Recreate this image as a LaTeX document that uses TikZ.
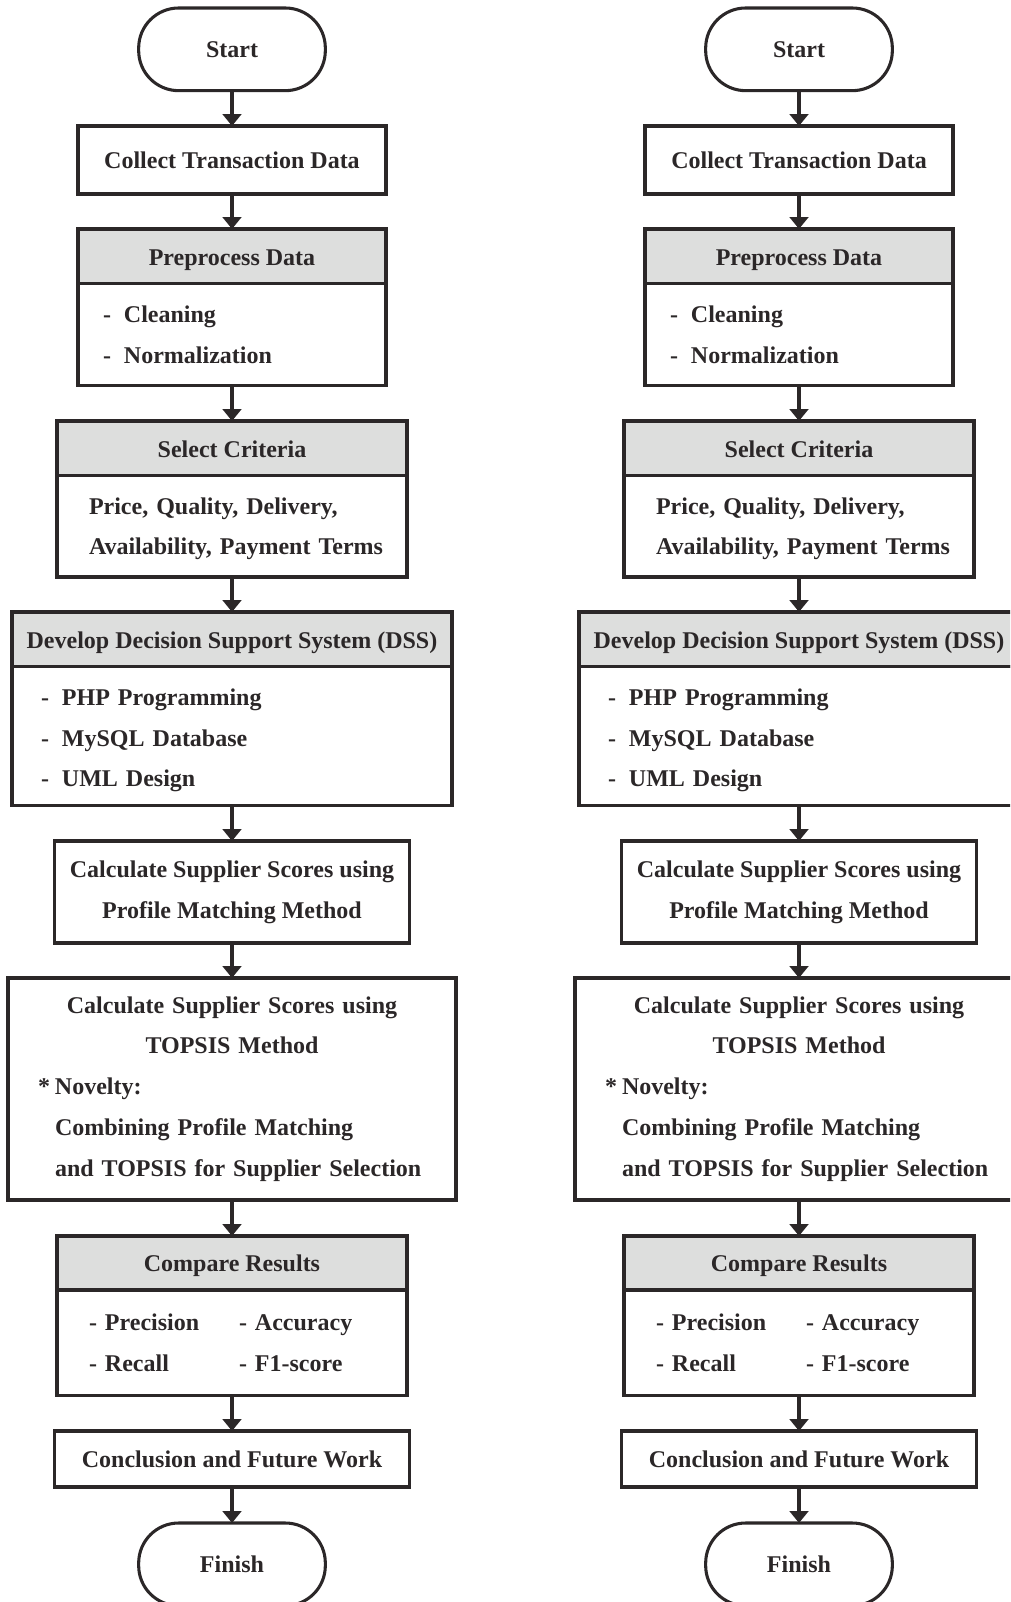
\documentclass[tikz,border=0pt]{standalone}
\usepackage{fontspec}
\setmainfont{Liberation Serif}
\usetikzlibrary{positioning,arrows.meta}

\definecolor{inkgray}{HTML}{2B2728}
\definecolor{headgray}{HTML}{DDDEDD}

\tikzset{
  box/.style={draw=inkgray, line width=2.3pt, outer sep=0pt, inner sep=0pt,
    text=inkgray, font=\bfseries\fontsize{18}{30.6}\selectfont\frenchspacing},
  terminal/.style={box, rounded corners=30pt, minimum width=140pt, minimum height=62pt},
  stepbox/.style={box, align=center},
  headbox/.style={box, fill=headgray, minimum height=41pt, text height=13pt, text depth=0pt},
  listbox/.style={box, align=left},
  flow/.style={draw=inkgray, line width=2.5pt, -{Triangle[width=14pt,length=9pt]}},
}
\newcommand{\itemdash}{\makebox[15.75pt][l]{-}}

\begin{document}
\begin{tikzpicture}[x=0.75pt, y=-0.75pt]
\useasboundingbox (0,0) rectangle (1010,1602);
\clip (0,0) rectangle (1010,1602);

% the same flow chart, twice
\foreach \p/\cx in {l/232, r/799}{
  \node[terminal, anchor=north] (\p-start) at (\cx,8) {Start};
  \node[stepbox, anchor=north, minimum width=231pt, minimum height=51pt] (\p-collect) at (\cx,126) {Collect Transaction Data};
  % preprocessing
  \node[headbox, anchor=north, minimum width=231pt] (\p-prep-head) at (\cx,229) {Preprocess Data};
  \node[listbox, below=0pt of \p-prep-head, minimum width=231pt, minimum height=76.5pt,
    text width=193.5pt, inner xsep=18.75pt] (\p-prep-body) {\itemdash Cleaning\\ \itemdash Normalization};
  % criteria
  \node[headbox, anchor=north, minimum width=262.5pt] (\p-crit-head) at (\cx,421) {Select Criteria};
  \node[listbox, below=0pt of \p-crit-head, minimum width=262.5pt, minimum height=76pt,
    text width=214.5pt, inner xsep=24pt] (\p-crit-body) {\rule{0pt}{16pt}\mbox{Price, Quality, Delivery,}\\ \mbox{Availability, Payment Terms}};
  % dss
  \node[headbox, anchor=north, minimum width=330pt] (\p-dss-head) at (\cx,612) {Develop Decision Support System (DSS)};
  \node[listbox, below=0pt of \p-dss-head, minimum width=330pt, minimum height=104pt,
    text width=286.5pt, inner xsep=21.75pt] (\p-dss-body) {\rule{0pt}{19pt}\itemdash PHP Programming\\ \itemdash MySQL Database\\ \itemdash UML Design};
  % scores
  \node[stepbox, anchor=north, minimum width=266pt, minimum height=76.5pt] (\p-pm) at (\cx,841) {Calculate Supplier Scores using\\ Profile Matching Method};
  \node[listbox, anchor=north, minimum height=166.5pt, text width=291pt, inner xsep=22.5pt] (\p-topsis) at (\cx,978)
    {\makebox[\linewidth]{Calculate Supplier Scores using}\\ \makebox[\linewidth]{TOPSIS Method}\\
     \makebox[12.75pt][l]{*}Novelty:\\ \hspace*{12.75pt}Combining Profile Matching\\ \hspace*{12.75pt}and TOPSIS for Supplier Selection};
  % results
  \node[headbox, anchor=north, minimum width=262.5pt, minimum height=40.5pt] (\p-comp-head) at (\cx,1236) {Compare Results};
  \node[listbox, below=0pt of \p-comp-head, minimum width=262.5pt, minimum height=79pt,
    text width=214.5pt, inner xsep=24pt] (\p-comp-body) {\makebox[112.5pt][l]{- Precision}- Accuracy\\ \makebox[112.5pt][l]{- Recall}- F1-score};
  \node[stepbox, anchor=north, minimum width=266pt, minimum height=42pt] (\p-concl) at (\cx,1431) {Conclusion and Future Work};
  \node[terminal, anchor=north] (\p-finish) at (\cx,1523) {Finish};
  % arrows
  \foreach \a/\b in {start/collect, collect/prep-head, prep-body/crit-head, crit-body/dss-head,
      dss-body/pm, pm/topsis, topsis/comp-head, comp-body/concl, concl/finish}
    \draw[flow] (\p-\a) -- (\p-\b);
}
\end{tikzpicture}
\end{document}
